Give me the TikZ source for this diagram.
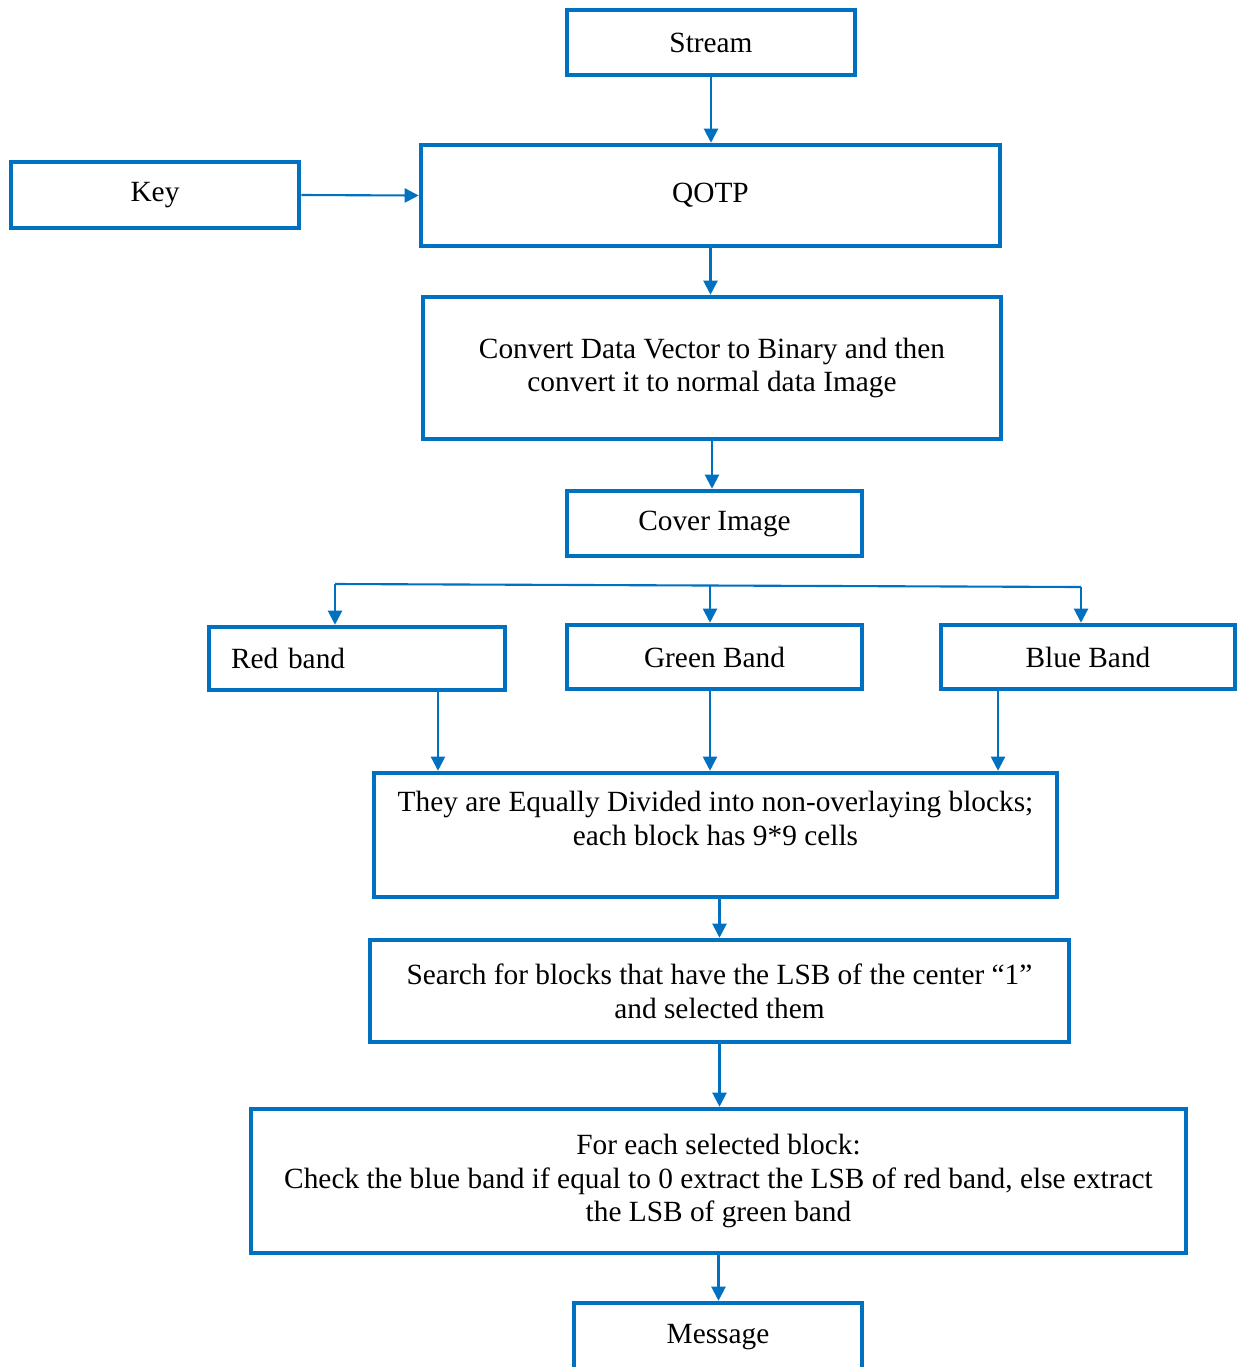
\documentclass[tikz,border=0pt]{standalone}
\usepackage{fontspec}
\setmainfont{Liberation Serif}
\usetikzlibrary{arrows.meta}
\definecolor{flowblue}{RGB}{0,112,192}

\begin{document}
\begin{tikzpicture}[x=0.02cm, y=-0.02cm,
    box/.style={draw=flowblue, line width=2.6pt, fill=white, align=center,
        font=\fontsize{16.7}{19.3}\selectfont, inner sep=0pt},
    wh/.style n args={2}{minimum width=#1*0.02cm, minimum height=#2*0.02cm},
    wire/.style={draw=flowblue, line width=1.2pt},
    link/.style={wire, -{Triangle[length=8pt, width=8pt]}}]
    \useasboundingbox (0,0) rectangle (1237,1367);
    % Input side
    \node[box, wh={288}{65}] (stream) at (711,42.5) {Stream};
    \node[box, wh={288}{66}] (key) at (155,195) {Key};
    \node[box, wh={579}{101}] (qotp) at (710.5,195.5) {QOTP};
    \node[box, wh={578}{142}] (convert) at (712,368) {Convert Data Vector to Binary and then\\convert it to normal data Image};
    \node[box, wh={295}{65}] (cover) at (714.5,523.5) {Cover Image};
    \draw[link] (stream.south) -- (stream.south |- qotp.north);
    \draw[link] (key.east) -- (qotp.west);
    \draw[link] (qotp.south) -- (qotp.south |- convert.north);
    \draw[link] (convert.south) -- (convert.south |- cover.north);
    % Bands
    \node[box, wh={296}{63}, text width=5.04cm, align=left] (red) at (357,658.5) {Red band};
    \node[box, wh={295}{64}] (green) at (714.5,657) {Green Band};
    \node[box, wh={294}{64}] (blue) at (1088,657) {Blue Band};
    \coordinate (splitL) at (335,584);
    \coordinate (splitM) at (710,585.5);
    \coordinate (splitR) at (1081,587);
    \draw[wire] (splitL) -- (splitR);
    \draw[link] (splitL) -- (splitL |- red.north);
    \draw[link] (splitM) -- (splitM |- green.north);
    \draw[link] (splitR) -- (splitR |- blue.north);
    % Extraction
    \node[box, wh={683}{124}] (divide) at (715.5,835) {They are Equally Divided into non-overlaying blocks;\\each block has 9*9 cells\\\mbox{}};
    \node[box, wh={699}{102}] (search) at (719.5,991) {Search for blocks that have the LSB of the center ``1''\\and selected them};
    \node[box, wh={935}{144}] (each) at (718.5,1181) {For each selected block:\\Check the blue band if equal to 0 extract the LSB of red band, else extract\\the LSB of green band};
    \node[box, wh={288}{69}] (message) at (718,1337.5) {Message};
    \draw[link] ([xshift=1.62cm]red.south) -- ([xshift=1.62cm]red.south |- divide.north);
    \draw[link] ([xshift=-0.09cm]green.south) -- ([xshift=-0.09cm]green.south |- divide.north);
    \draw[link] ([xshift=-1.8cm]blue.south) -- ([xshift=-1.8cm]blue.south |- divide.north);
    \draw[link] (search.north |- divide.south) -- (search.north);
    \draw[link] (search.south) -- (search.south |- each.north);
    \draw[link] (each.south) -- (each.south |- message.north);
\end{tikzpicture}
\end{document}
